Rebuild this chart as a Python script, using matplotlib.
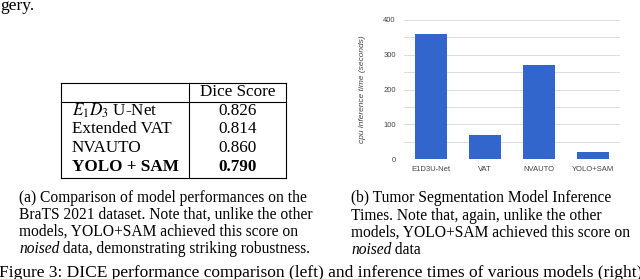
import matplotlib
matplotlib.use("Agg")
import matplotlib.pyplot as plt
from matplotlib.lines import Line2D

plt.rcParams['mathtext.fontset'] = 'stix'

# bar chart data (right panel)
models = ["E1D3U-Net", "VAT", "NVAUTO", "YOLO+SAM"]
cpu_time = [360, 70, 270, 20]
yticks = [0, 100, 200, 300, 400]

# table data (left panel)
row_names = [r"$E_1D_3$ U-Net", "Extended VAT", "NVAUTO", "YOLO + SAM"]
dice = ["0.826", "0.814", "0.860", "0.790"]
bold_row = 3

cap_a = ["(a) Comparison of model performances on the",
         "BraTS 2021 dataset. Note that, unlike the other",
         "models, YOLO+SAM achieved this score on",
         "noised"]
cap_a_rest = " data, demonstrating striking robustness."
cap_b = ["(b) Tumor Segmentation Model Inference",
         "Times. Note that, again, unlike the other",
         "models, YOLO+SAM achieved this score on",
         "noised"]
cap_b_rest = " data"

W, H = 640, 279
fig = plt.figure(figsize=(6.4, 2.79), dpi=100)

# page overlay in pixel coordinates
pg = fig.add_axes([0, 0, 1, 1])
pg.set_xlim(0, W)
pg.set_ylim(H, 0)
pg.axis('off')

serif = 'Liberation Serif'
cap_fs = 11.2
tab_fs = 12.3
body_fs = 12.5

pg.text(0, 10, "gery.", fontsize=body_fs, family=serif, va='baseline')

# table frame
L, R, T, B, D, HB = 61, 286, 83, 178, 189, 102
for x0, y0, x1, y1 in [(L, T, R, T), (L, B, R, B), (L, T, L, B), (R, T, R, B),
                       (D, T, D, B), (L, HB, R, HB)]:
    pg.add_line(Line2D([x0, x1], [y0, y1], color='black', lw=0.8))

pg.text((D + R) / 2, 92, "Dice Score", fontsize=tab_fs, family=serif,
        ha='center', va='center')
row_y = [111, 129, 148, 167]
for i, (name, val) in enumerate(zip(row_names, dice)):
    w = 'bold' if i == bold_row else 'normal'
    pg.text(72, row_y[i], name, fontsize=tab_fs, family=serif, weight=w,
            ha='left', va='center')
    pg.text((D + R) / 2, row_y[i], val, fontsize=tab_fs, family=serif,
            weight=w, ha='center', va='center')

# captions
def caption(x, ys, lines, rest):
    for y, line in zip(ys, lines):
        style = 'italic' if line == "noised" else 'normal'
        t = pg.text(x, y, line, fontsize=cap_fs, family=serif, style=style,
                    va='center')
    fig.canvas.draw()
    bb = t.get_window_extent()
    x2 = bb.x1 / fig.dpi * 100
    pg.text(x2, ys[-1], rest, fontsize=cap_fs, family=serif, va='center')

caption(19, [198, 215, 232, 249], cap_a, cap_a_rest)
caption(351, [198, 216, 233, 250], cap_b, cap_b_rest)

pg.text(-1, 277, "Figure 3: DICE performance comparison (left) and inference times "
        "of various models (right).", fontsize=body_fs, family=serif,
        va='baseline')

# bar chart
ax = fig.add_axes([404 / W, 1 - 159 / H, 216 / W, 139 / H])
ax.bar(range(len(models)), cpu_time, width=0.61, color='#3366cc', zorder=3)
ax.set_xlim(-0.5, 3.5)
ax.set_ylim(0, 400)
ax.set_yticks(yticks)
ax.set_yticks([50, 150, 250, 350], minor=True)
ax.set_xticks(range(len(models)))
ax.set_xticklabels(models)
ax.grid(axis='y', which='both', color='#dcdcdc', lw=0.7, zorder=0)
for s in ax.spines.values():
    s.set_visible(False)
ax.tick_params(axis='both', which='both', length=0, labelsize=5.5,
               labelcolor='#444444', labelfontfamily='Liberation Sans')
ax.tick_params(axis='y', pad=6)
ax.tick_params(axis='x', pad=5)
ax.set_ylabel("cpu inference time (seconds)", fontsize=6, style='italic',
              family='Liberation Sans', color='#444444', labelpad=12)

fig.savefig("out.png", dpi=100)
